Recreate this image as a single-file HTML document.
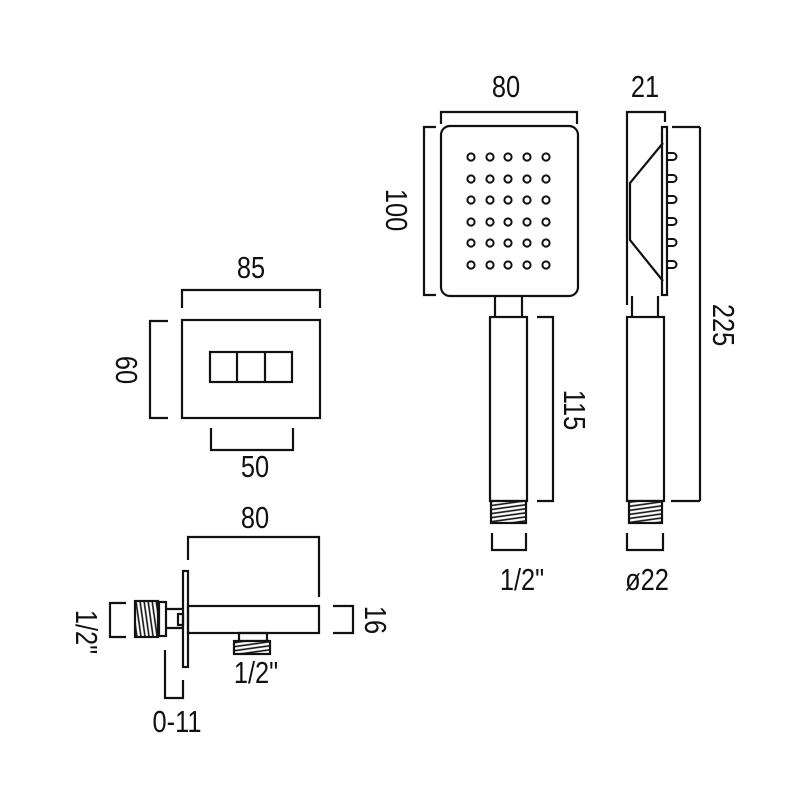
<!DOCTYPE html>
<html><head><meta charset="utf-8"><style>
html,body{margin:0;padding:0;background:#fff;}
svg{display:block;}
text{font-family:"Liberation Sans",sans-serif;font-size:31px;fill:#111;}
</style></head><body>
<svg width="800" height="800" viewBox="0 0 800 800" xmlns="http://www.w3.org/2000/svg">
<defs>
<pattern id="thr" width="4" height="4" patternUnits="userSpaceOnUse" patternTransform="rotate(-8)">
<rect width="4" height="4" fill="#fff"/><line x1="0" y1="1" x2="4" y2="1" stroke="#111" stroke-width="1.6"/></pattern>
<pattern id="thrv" width="4" height="4" patternUnits="userSpaceOnUse" patternTransform="rotate(82)">
<rect width="4" height="4" fill="#fff"/><line x1="0" y1="1" x2="4" y2="1" stroke="#111" stroke-width="1.6"/></pattern>
</defs>
<g fill="none" stroke="#111" stroke-width="2.2">
<rect x="441" y="126" width="137" height="170" rx="9"/>
<polyline points="441,124 441,112 577,112 577,124"/>
<polyline points="436,127 424,127 424,295 436,295"/>
<line x1="495" y1="296" x2="495" y2="317"/><line x1="522" y1="296" x2="522" y2="317"/>
<rect x="490" y="317" width="37" height="184"/>
<rect x="491" y="501" width="35" height="22" fill="url(#thr)"/>
<polyline points="537,317 553,317 553,501 537,501"/>
<polyline points="492,533 492,550 526,550 526,533"/>
<polyline points="627,305 627,112 665,112 665,122"/>
<rect x="662" y="127" width="5" height="168"/>
<polyline points="663,143 630,183 630,240 663,281"/>
<line x1="672" y1="127" x2="700" y2="127"/>
<line x1="700" y1="127" x2="700" y2="501"/>
<line x1="671" y1="501" x2="700" y2="501"/>
<line x1="632" y1="296" x2="632" y2="317"/><line x1="658" y1="296" x2="658" y2="317"/>
<rect x="627" y="317" width="37" height="184"/>
<rect x="629" y="501" width="33" height="22" fill="url(#thr)"/>
<polyline points="627,533 627,550 663,550 663,533"/>
<rect x="182" y="320" width="138" height="98"/>
<polyline points="182,308 182,290 320,290 320,308"/>
<polyline points="168,321 150,321 150,418 168,418"/>
<rect x="210" y="352" width="82" height="30"/>
<line x1="237" y1="352" x2="237" y2="382"/><line x1="265" y1="352" x2="265" y2="382"/>
<polyline points="211,428 211,450 293,450 293,428"/>
<polyline points="188,560 188,537 319,537 319,597"/>
<rect x="183" y="571" width="5" height="96"/>
<rect x="188" y="606" width="131" height="27"/>
<rect x="135" y="601" width="23" height="36" fill="url(#thrv)"/>
<rect x="159" y="602" width="7" height="34"/>
<polyline points="166,609 183,609"/><polyline points="166,628 183,628"/>
<rect x="178" y="614" width="5" height="11"/>
<rect x="239" y="633" width="28" height="8"/>
<rect x="234" y="641" width="36" height="13" fill="url(#thr)"/>
<polyline points="333,606 353,606 353,633 333,633"/>
<polyline points="126,603 110,603 110,637 126,637"/>
<polyline points="165,650 165,698 183,698 183,680"/>
</g>
<g fill="none" stroke="#111" stroke-width="2">
<g id="dots">
<circle cx="471" cy="157" r="3.6"/><circle cx="490" cy="157" r="3.6"/><circle cx="508" cy="157" r="3.6"/><circle cx="527" cy="157" r="3.6"/><circle cx="546" cy="157" r="3.6"/>
</g>
<use href="#dots" y="22"/><use href="#dots" y="43"/><use href="#dots" y="65"/><use href="#dots" y="86"/><use href="#dots" y="108"/>
<path d="M667,153 h6 a3,3 0 0 1 0,7 h-6"/>
<path d="M667,175 h6 a3,3 0 0 1 0,7 h-6"/>
<path d="M667,196 h6 a3,3 0 0 1 0,7 h-6"/>
<path d="M667,218 h6 a3,3 0 0 1 0,7 h-6"/>
<path d="M667,239 h6 a3,3 0 0 1 0,7 h-6"/>
<path d="M667,261 h6 a3,3 0 0 1 0,7 h-6"/>
</g>
<g text-anchor="middle">
<text transform="translate(506 97) scale(0.82 1)">80</text>
<text transform="translate(645 97) scale(0.82 1)">21</text>
<text transform="translate(251 278) scale(0.82 1)">85</text>
<text transform="translate(255 477) scale(0.82 1)">50</text>
<text transform="translate(255 528) scale(0.82 1)">80</text>
<text transform="translate(522 590) scale(0.82 1)">1/2"</text>
<text transform="translate(647 590) scale(0.82 1)">ø22</text>
<text transform="translate(256 683) scale(0.82 1)">1/2"</text>
<text transform="translate(177 732) scale(0.82 1)">0-11</text>
<text transform="translate(386 210) rotate(90) scale(0.82 1)">100</text>
<text transform="translate(564 410) rotate(90) scale(0.82 1)">115</text>
<text transform="translate(713 325) rotate(90) scale(0.82 1)">225</text>
<text transform="translate(116 370) rotate(90) scale(0.82 1)">60</text>
<text transform="translate(365 620) rotate(90) scale(0.82 1)">16</text>
<text transform="translate(76 632) rotate(90) scale(0.82 1)">1/2"</text>
</g>
</svg>
</body></html>
